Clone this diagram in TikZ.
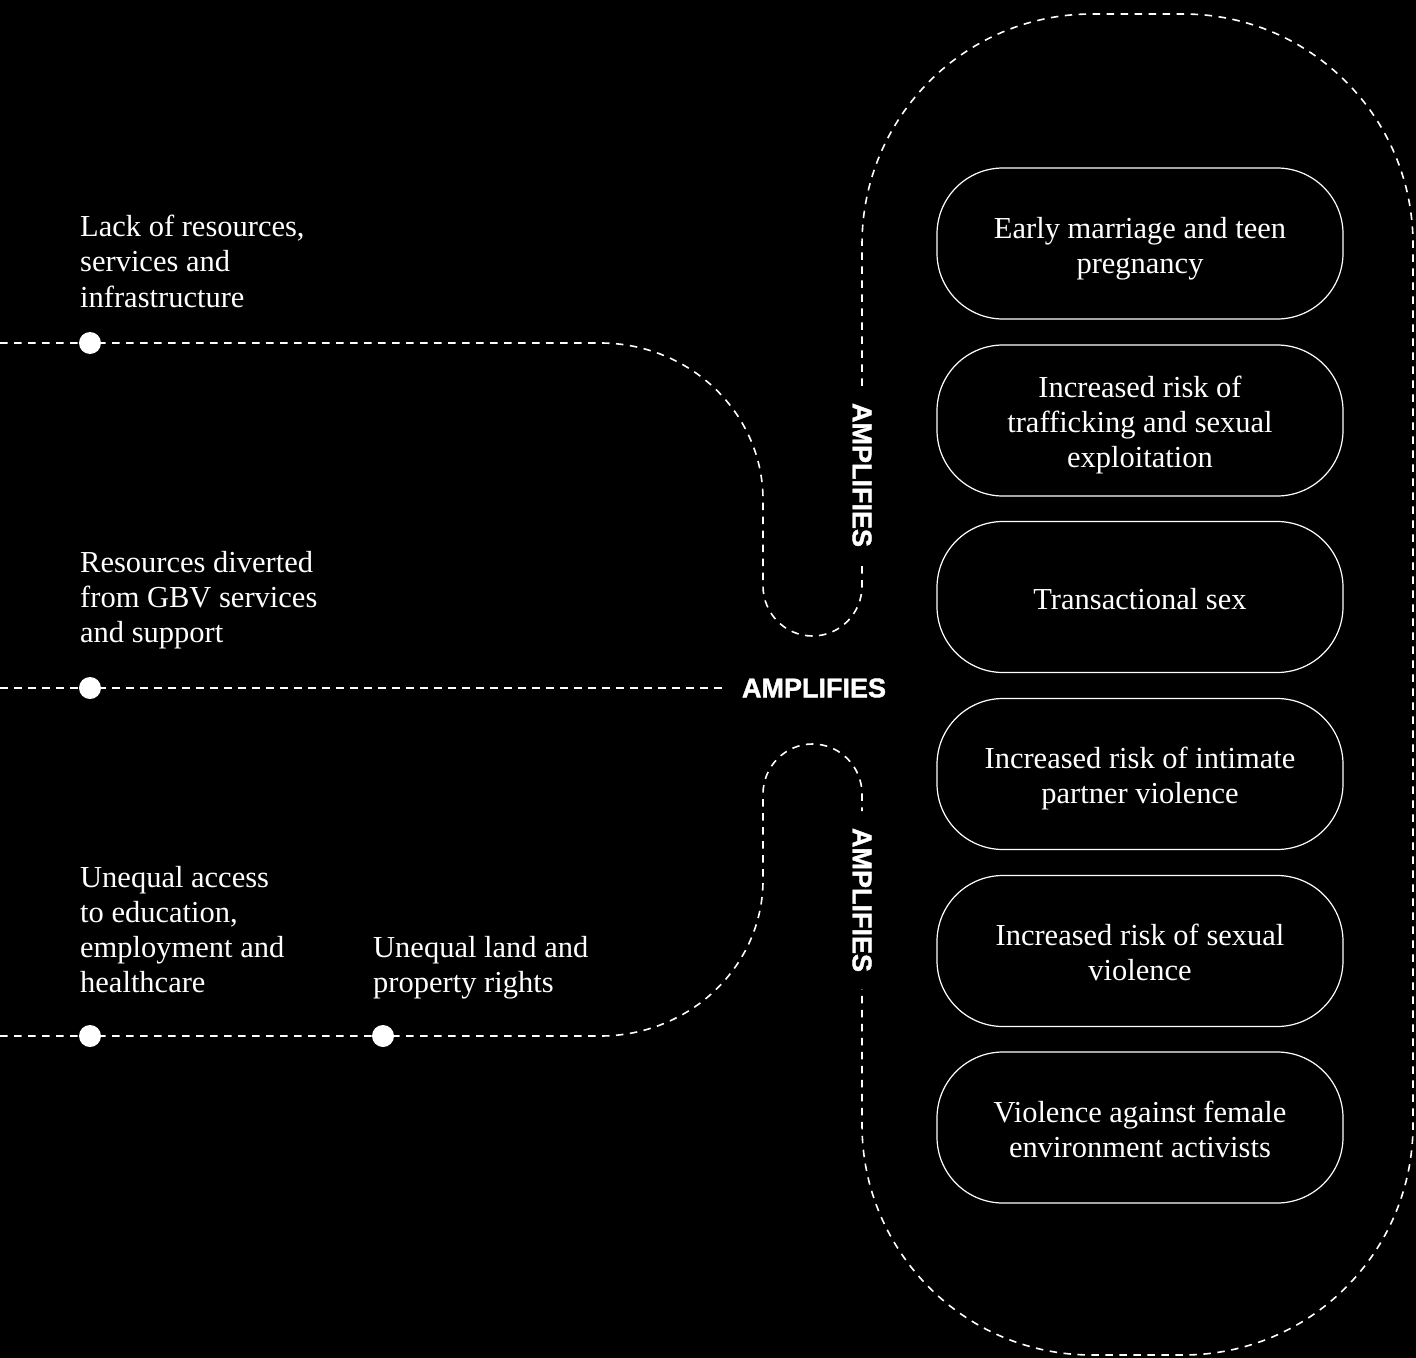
\documentclass[tikz,border=0pt]{standalone}
\usepackage{fontspec}
\setmainfont{Liberation Serif}
\newfontfamily\ampfont{Liberation Sans}[BoldFeatures={FakeBold=1.5}]
\pgfdeclarelayer{bg}
\pgfsetlayers{bg,main}
\begin{document}
\begin{tikzpicture}[x=1bp,y=-1bp,
  link/.style={draw=white, line width=1.6bp, dash pattern=on 7.5bp off 6.5bp},
  dot/.style={circle, fill=white, minimum size=22bp, inner sep=0pt},
  pill/.style={draw=white, line width=1.2bp, rounded corners=66bp, minimum width=406bp, minimum height=151bp, inner sep=0pt},
  btxt/.style={text=white, align=center, font=\fontsize{30.5bp}{35bp}\selectfont, inner sep=0pt, anchor=base},
  ltxt/.style={text=white, align=left, font=\fontsize{30.5bp}{35bp}\selectfont, inner sep=0pt, anchor=base west},
  amp/.style={text=white, font=\fontsize{27bp}{30bp}\ampfont\bfseries, inner xsep=17bp, inner ysep=0pt, outer sep=0pt}
]
\useasboundingbox (0,0) rectangle (1416,1358);

% left texts (anchor = baseline of last line)
\node[ltxt] (s1) at (80,307) {Lack of resources,\\services and\\infrastructure};
\node[ltxt] (s2) at (80,642) {Resources diverted\\from GBV services\\and support};
\node[ltxt] (s3) at (80,992) {Unequal access\\to education,\\employment and\\healthcare};
\node[ltxt] (s4) at (373,992) {Unequal land and\\property rights};

% dots
\node[dot] (d1) at (90,343) {};
\node[dot] (d2) at (90,688) {};
\node[dot] (d3) at (90,1036) {};
\node[dot] (d4) at (383,1036) {};

% amplifies labels
\node[amp, rotate=-90] (amp1) at (862,475) {AMPLIFIES};
\node[amp] (amp2) at (814,688) {AMPLIFIES};
\node[amp, rotate=-90] (amp3) at (862,900) {AMPLIFIES};

% pills
\node[pill] (b1) at (1140,243.5) {};
\node[pill] (b2) at (1140,420.5) {};
\node[pill] (b3) at (1140,597) {};
\node[pill] (b4) at (1140,774) {};
\node[pill] (b5) at (1140,951) {};
\node[pill] (b6) at (1140,1127.5) {};
\node[btxt] (t1) at (1140,273.5) {Early marriage and teen\\pregnancy};
\node[btxt] (t2) at (1140,467.5) {Increased risk of\\trafficking and sexual\\exploitation};
\node[btxt] (t3) at (1140,609.5) {Transactional sex};
\node[btxt] (t4) at (1140,803.5) {Increased risk of intimate\\partner violence};
\node[btxt] (t5) at (1140,980.5) {Increased risk of sexual\\violence};
\node[btxt] (t6) at (1140,1157.5) {Violence against female\\environment activists};

\coordinate (e1) at (0,343);
\coordinate (e2) at (0,688);
\coordinate (e3) at (0,1036);

\begin{pgfonlayer}{bg}
\fill[black] (0,0) rectangle (1416,1358);
% top connector
\draw[link] (e1) -- (d1.center) -- (600,343)
  .. controls (690,343) and (763,413) .. (763,500) -- (763,586)
  .. controls (763,613.6) and (785.4,636) .. (812.5,636)
  .. controls (839.6,636) and (862,613.6) .. (862,586) -- (amp1.east);
% middle connector
\draw[link] (e2) -- (d2.center) -- (amp2.west);
% bottom connector
\draw[link] (e3) -- (d3.center) -- (d4.center) -- (600,1036)
  .. controls (690,1036) and (763,966) .. (763,880) -- (763,794)
  .. controls (763,766.4) and (785.4,744) .. (812.5,744)
  .. controls (839.6,744) and (862,766.4) .. (862,794) -- (amp3.west);
% outer pill
\draw[link, rounded corners=230bp] (amp1.west) -- (862,14) -- (1413,14) -- (1413,1355) -- (862,1355) -- (amp3.east);
\end{pgfonlayer}
\end{tikzpicture}
\end{document}
